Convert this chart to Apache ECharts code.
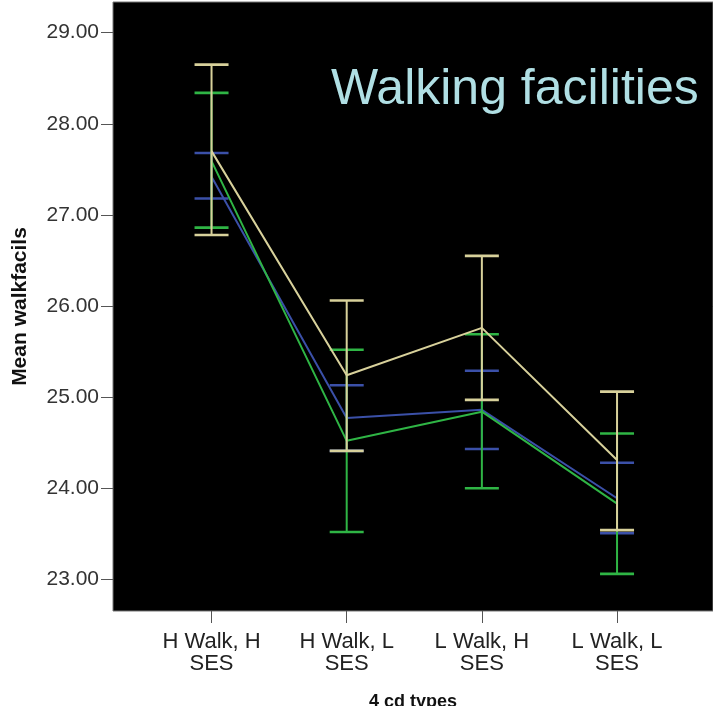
<!DOCTYPE html>
<html>
<head>
<meta charset="utf-8">
<script src="https://cdn.jsdelivr.net/npm/echarts@6/dist/echarts.min.js"></script>
<style>html,body{margin:0;padding:0;background:#fff}#c{width:713px;height:706px}</style>
</head>
<body>
<div id="c"></div>
<script>
var categories = ['H Walk, H\nSES', 'H Walk, L\nSES', 'L Walk, H\nSES', 'L Walk, L\nSES'];
var yTicks = [23, 24, 25, 26, 27, 28, 29];
var xPositions = [1, 2, 3, 4];

var blueMean = [27.42, 24.77, 24.86, 23.89];
var blueLow  = [27.18, 24.41, 24.43, 23.505];
var blueHigh = [27.68, 25.13, 25.29, 24.28];

var greenMean = [27.59, 24.52, 24.84, 23.83];
var greenLow  = [26.86, 23.52, 24.00, 23.06];
var greenHigh = [28.34, 25.52, 25.69, 24.60];

var tanMean = [27.70, 25.24, 25.76, 24.31];
var tanLow  = [26.78, 24.41, 24.97, 23.54];
var tanHigh = [28.65, 26.06, 26.55, 25.06];

var groups = [
  {name: 'Group A', color: '#3b50a8', mean: blueMean, low: blueLow, high: blueHigh},
  {name: 'Group B', color: '#2fb545', mean: greenMean, low: greenLow, high: greenHigh},
  {name: 'Group C', color: '#d8d19b', mean: tanMean, low: tanLow, high: tanHigh}
];

var FONT = 'Liberation Sans, Arial, sans-serif';
var series = [];
groups.forEach(function (g, gi) {
  var errData = xPositions.map(function (x, i) { return [x, g.low[i], g.high[i]]; });
  series.push({
    type: 'custom',
    name: g.name,
    z: 2 + gi * 2,
    data: errData,
    encode: {x: 0, y: [1, 2]},
    renderItem: function (params, api) {
      var x = api.value(0);
      var lo = api.coord([x, api.value(1)]);
      var hi = api.coord([x, api.value(2)]);
      var hw = 17;
      var st = {stroke: g.color, lineWidth: 2};
      var cap = {stroke: g.color, lineWidth: 2.6};
      return {
        type: 'group',
        children: [
          {type: 'line', shape: {x1: lo[0], y1: lo[1], x2: hi[0], y2: hi[1]}, style: st},
          {type: 'line', shape: {x1: lo[0] - hw, y1: lo[1], x2: lo[0] + hw, y2: lo[1]}, style: cap},
          {type: 'line', shape: {x1: hi[0] - hw, y1: hi[1], x2: hi[0] + hw, y2: hi[1]}, style: cap}
        ]
      };
    },
    silent: true
  });
  series.push({
    type: 'line',
    name: g.name,
    z: 3 + gi * 2,
    showSymbol: false,
    data: xPositions.map(function (x, i) { return [x, g.mean[i]]; }),
    lineStyle: {color: g.color, width: 2},
    itemStyle: {color: g.color},
    silent: true
  });
});

var chart = echarts.init(document.getElementById('c'), null, {renderer: 'canvas'});
chart.setOption({
  animation: false,
  backgroundColor: '#fff',
  title: {
    text: 'Walking facilities',
    left: 326,
    top: 60,
    textStyle: {color: '#b0dfe4', fontSize: 50, fontWeight: 'normal', fontFamily: FONT}
  },
  grid: {
    left: 113, right: 0, top: 2, bottom: 95,
    outerBoundsMode: 'none',
    containLabel: false,
    show: true, backgroundColor: '#000', borderColor: '#777', borderWidth: 1
  },
  xAxis: {
    type: 'value',
    min: 0.271, max: 4.71,
    name: '4 cd types',
    nameLocation: 'middle',
    nameGap: 82,
    nameTextStyle: {fontFamily: FONT, fontSize: 18, fontWeight: 'bold', color: '#111'},
    splitLine: {show: false},
    axisLine: {show: false},
    axisTick: {show: true, customValues: xPositions, length: 12, lineStyle: {color: '#555'}},
    axisLabel: {
      customValues: xPositions,
      margin: 20,
      fontFamily: FONT, fontSize: 22, color: '#222', lineHeight: 22,
      formatter: function (v) { return categories[Math.round(v) - 1]; }
    }
  },
  yAxis: {
    type: 'value',
    min: 22.652, max: 29.337,
    name: 'Mean walkfacils',
    nameLocation: 'middle',
    nameRotate: 90,
    nameGap: 82,
    nameTextStyle: {fontFamily: FONT, fontSize: 21, fontWeight: 'bold', color: '#111'},
    splitLine: {show: false},
    axisLine: {show: false},
    axisTick: {show: true, customValues: yTicks, length: 12, lineStyle: {color: '#555'}},
    axisLabel: {
      customValues: yTicks,
      margin: 14,
      fontFamily: FONT, fontSize: 21, color: '#333',
      formatter: function (v) { return v.toFixed(2); }
    }
  },
  series: series
});
</script>
</body>
</html>
